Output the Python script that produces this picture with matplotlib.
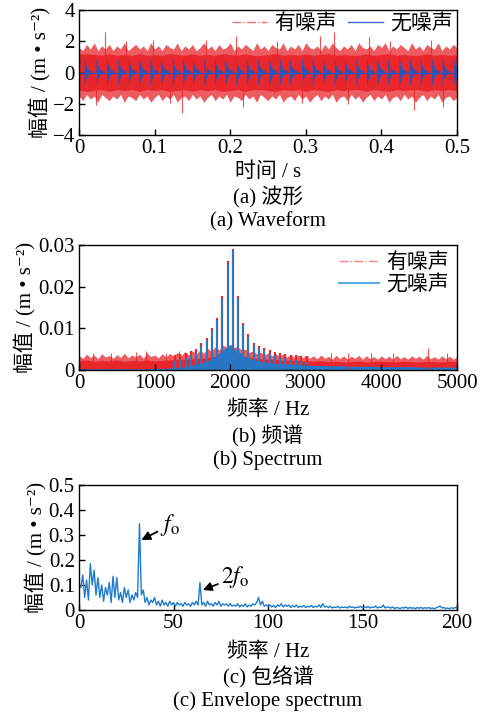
import numpy as np
import matplotlib
matplotlib.use('Agg')
import matplotlib.pyplot as plt

plt.rcParams['font.family'] = ['Liberation Serif', 'Noto Sans CJK SC', 'DejaVu Sans']
plt.rcParams['mathtext.fontset'] = 'stix'
plt.rcParams['axes.unicode_minus'] = True

RED = '#e8262b'
BLUE_A = '#2a55b8'
BLUE_B = '#1f7bcc'

# ---- (a) waveform ----
wave_t = np.linspace(0, 0.5, 51)
wave_t2 = np.linspace(0, 0.5, 101)
noisy_core = [1.15, 1.2, 1.15, 1.1, 1.2, 1.1, 1.15, 1.1, 1.2, 1.1, 1.15, 1.1, 1.2, 1.15, 1.1, 1.2, 1.1,
              1.15, 1.1, 1.2, 1.15, 1.1, 1.2, 1.1, 1.1, 1.15, 1.2, 1.1, 1.15, 1.1, 1.2, 1.1, 1.15, 1.2,
              1.1, 1.15, 1.1, 1.1, 1.2, 1.1, 1.15, 1.2, 1.1, 1.15, 1.1, 1.1, 1.2, 1.1, 1.15, 1.1, 1.15]
noisy_hi = [1.6, 1.4, 1.8, 1.5, 1.9, 1.4, 1.7, 1.5, 1.8, 1.4,
            1.7, 1.5, 1.9, 1.4, 1.6, 1.8, 1.5, 1.7, 1.4, 1.9,
            1.5, 1.7, 1.4, 1.8, 1.6, 1.5, 1.9, 1.4, 1.7, 1.5,
            1.8, 1.4, 1.6, 1.9, 1.5, 1.7, 1.4, 1.8, 1.5, 1.6,
            1.9, 1.4, 1.7, 1.5, 1.8, 1.6, 1.4, 1.9, 1.5, 1.7,
            1.4, 1.8, 1.6, 1.5, 1.9, 1.4, 1.7, 1.5, 1.8, 1.4,
            1.9, 1.6, 1.5, 1.7, 1.4, 1.8, 1.5, 1.9, 1.6, 1.4,
            1.7, 1.5, 1.8, 1.4, 1.9, 1.6, 1.5, 1.7, 1.4, 1.8,
            1.6, 1.9, 1.4, 1.7, 1.5, 1.8, 1.6, 1.4, 1.9, 1.5,
            1.7, 1.4, 1.8, 1.6, 1.5, 1.9, 1.4, 1.7, 1.5, 1.8, 1.6]
noisy_lo = [-1.5, -1.8, -1.4, -1.7, -1.5, -1.9, -1.4, -1.6, -1.8, -1.5,
            -1.7, -1.4, -1.9, -1.5, -1.6, -1.8, -1.4, -1.7, -1.5, -1.9,
            -1.6, -1.4, -1.8, -1.5, -1.7, -1.4, -1.9, -1.6, -1.5, -1.8,
            -1.4, -1.7, -1.5, -1.9, -1.6, -1.4, -1.8, -1.5, -1.7, -1.4,
            -1.9, -1.5, -1.6, -1.8, -1.4, -1.7, -1.5, -1.9, -1.4, -1.6,
            -1.8, -1.5, -1.7, -1.4, -1.9, -1.6, -1.5, -1.8, -1.4, -1.7,
            -1.5, -1.9, -1.6, -1.4, -1.8, -1.5, -1.7, -1.4, -1.9, -1.6,
            -1.5, -1.8, -1.4, -1.7, -1.5, -1.9, -1.6, -1.4, -1.8, -1.5,
            -1.7, -1.4, -1.9, -1.6, -1.5, -1.8, -1.4, -1.7, -1.5, -1.9,
            -1.6, -1.4, -1.8, -1.5, -1.7, -1.4, -1.9, -1.6, -1.5, -1.8, -1.6]
spike_t = [0.023, 0.035, 0.062, 0.098, 0.121, 0.136, 0.168, 0.208, 0.217, 0.262, 0.295, 0.319,
           0.337, 0.356, 0.383, 0.412, 0.443, 0.466, 0.482]
spike_v = [-2.05, 2.6, 2.0, 2.05, -1.95, -2.6, 2.1, 2.35, -2.2, 2.0, -1.95, 2.35,
           2.6, -2.0, 2.3, 2.0, -2.4, 2.05, -2.2]
impulse_t = [0.0075, 0.023, 0.037, 0.052, 0.066, 0.080, 0.0945, 0.109, 0.124, 0.138, 0.151, 0.166,
             0.180, 0.194, 0.208, 0.222, 0.237, 0.252, 0.266, 0.279, 0.295, 0.309, 0.323, 0.338,
             0.352, 0.367, 0.381, 0.395, 0.409, 0.424, 0.438, 0.452, 0.467, 0.481, 0.496]
impulse_amp = [0.95, 0.9, 0.95, 0.92, 0.9, 0.95, 0.93, 0.9, 0.95, 0.92, 0.9, 0.95, 0.93, 0.9, 0.95,
               0.92, 0.9, 0.95, 0.93, 0.9, 0.95, 0.92, 0.9, 0.95, 0.93, 0.9, 0.95, 0.92, 0.9, 0.95,
               0.93, 0.9, 0.95, 0.92, 0.9]

# ---- (b) spectrum ----
spec_f = np.linspace(0, 5000, 51)
spec_f2 = np.linspace(0, 5000, 101)
red_floor = [0.0022, 0.0024, 0.0021, 0.0023, 0.0022, 0.0024, 0.0021, 0.0023, 0.0022, 0.0024, 0.0022,
             0.0023, 0.0024, 0.0025, 0.0026, 0.0027, 0.0028, 0.0030, 0.0033, 0.0038, 0.0045, 0.0038,
             0.0032, 0.0029, 0.0027, 0.0026, 0.0025, 0.0024, 0.0024, 0.0023, 0.0022, 0.0021, 0.0022,
             0.0020, 0.0021, 0.0019, 0.0020, 0.0021, 0.0019, 0.0020, 0.0021, 0.0020, 0.0019, 0.0021,
             0.0020, 0.0019, 0.0021, 0.0020, 0.0019, 0.0021, 0.0020]
red_fuzz = [0.0034, 0.0028, 0.0038, 0.0030, 0.0036, 0.0027, 0.0039, 0.0031, 0.0035, 0.0028,
            0.0037, 0.0030, 0.0040, 0.0029, 0.0036, 0.0031, 0.0038, 0.0028, 0.0041, 0.0032,
            0.0036, 0.0029, 0.0039, 0.0031, 0.0040, 0.0033, 0.0042, 0.0034, 0.0044, 0.0036,
            0.0046, 0.0038, 0.0048, 0.0040, 0.0052, 0.0044, 0.0056, 0.0048, 0.0060, 0.0055,
            0.0062, 0.0054, 0.0056, 0.0048, 0.0050, 0.0042, 0.0046, 0.0039, 0.0043, 0.0036,
            0.0041, 0.0034, 0.0039, 0.0033, 0.0038, 0.0031, 0.0037, 0.0030, 0.0036, 0.0029,
            0.0035, 0.0028, 0.0034, 0.0027, 0.0036, 0.0028, 0.0033, 0.0026, 0.0035, 0.0027,
            0.0034, 0.0026, 0.0033, 0.0028, 0.0035, 0.0026, 0.0034, 0.0027, 0.0032, 0.0026,
            0.0034, 0.0027, 0.0033, 0.0026, 0.0035, 0.0027, 0.0032, 0.0026, 0.0034, 0.0028,
            0.0033, 0.0026, 0.0035, 0.0027, 0.0032, 0.0026, 0.0034, 0.0027, 0.0033, 0.0026, 0.0032]
red_spike_f = [180, 420, 760, 880, 1150, 1320, 3330, 3560, 3860, 4150, 4620, 4870]
red_spike_v = [0.0042, 0.0040, 0.0043, 0.0045, 0.0042, 0.0045, 0.0042, 0.0040, 0.0042, 0.0041, 0.0053, 0.0042]
blue_base = [0.0003, 0.0003, 0.0003, 0.0003, 0.0003, 0.0003, 0.0003, 0.0003, 0.0003, 0.0003, 0.0004,
             0.0004, 0.0005, 0.0006, 0.0008, 0.0012, 0.0016, 0.0022, 0.0032, 0.0048, 0.0060, 0.0045,
             0.0032, 0.0025, 0.0021, 0.0018, 0.0016, 0.0015, 0.0014, 0.0013, 0.0012, 0.0011, 0.0011,
             0.0010, 0.0010, 0.0010, 0.0009, 0.0009, 0.0009, 0.0009, 0.0008, 0.0008, 0.0008, 0.0008,
             0.0008, 0.0007, 0.0007, 0.0007, 0.0007, 0.0007, 0.0007]
comb_f = [1270, 1340, 1410, 1480, 1550, 1620, 1690, 1760, 1830, 1895, 1965, 2035, 2105, 2170,
          2240, 2310, 2380, 2450, 2520, 2590, 2660, 2730, 2800, 2870, 2940, 3010]
comb_a = [0.0022, 0.0026, 0.0030, 0.0035, 0.0042, 0.0058, 0.0072, 0.0095, 0.0120, 0.0172, 0.0255,
          0.0288, 0.0172, 0.0108, 0.0080, 0.0060, 0.0052, 0.0045, 0.0040, 0.0035, 0.0031, 0.0028,
          0.0025, 0.0023, 0.0021, 0.0019]
comb_red = [0.0035, 0.0038, 0.0040, 0.0045, 0.0050, 0.0064, 0.0078, 0.0100, 0.0126, 0.0178, 0.0262,
            0.0290, 0.0178, 0.0113, 0.0086, 0.0066, 0.0058, 0.0052, 0.0047, 0.0043, 0.0040, 0.0038,
            0.0036, 0.0035, 0.0034, 0.0033]

# ---- (c) envelope spectrum ----
env_f = np.arange(0, 201)
env_v = [0.10, 0.09, 0.14, 0.05, 0.12, 0.04, 0.185, 0.10, 0.16, 0.06,
         0.13, 0.05, 0.10, 0.035, 0.09, 0.06, 0.11, 0.03, 0.135, 0.05,
         0.13, 0.04, 0.07, 0.03, 0.09, 0.05, 0.08, 0.03, 0.06, 0.04,
         0.07, 0.05, 0.345, 0.06, 0.08, 0.03, 0.05, 0.02, 0.04, 0.03,
         0.05, 0.02, 0.035, 0.015, 0.04, 0.02, 0.03, 0.015, 0.035, 0.02,
         0.03, 0.015, 0.03, 0.02, 0.025, 0.015, 0.03, 0.02, 0.025, 0.015,
         0.03, 0.02, 0.035, 0.02, 0.11, 0.02, 0.03, 0.015, 0.035, 0.02,
         0.025, 0.015, 0.03, 0.02, 0.035, 0.015, 0.025, 0.02, 0.025, 0.015,
         0.025, 0.015, 0.02, 0.015, 0.025, 0.012, 0.02, 0.015, 0.025, 0.012,
         0.02, 0.015, 0.025, 0.02, 0.03, 0.05, 0.02, 0.035, 0.015, 0.02,
         0.015, 0.02, 0.012, 0.018, 0.01, 0.02, 0.015, 0.025, 0.012, 0.02,
         0.015, 0.02, 0.01, 0.018, 0.012, 0.02, 0.01, 0.015, 0.012, 0.018,
         0.01, 0.015, 0.012, 0.018, 0.01, 0.015, 0.012, 0.02, 0.01, 0.025,
         0.012, 0.015, 0.01, 0.015, 0.008, 0.012, 0.01, 0.015, 0.008, 0.012,
         0.01, 0.012, 0.008, 0.015, 0.01, 0.012, 0.008, 0.012, 0.01, 0.015,
         0.008, 0.012, 0.01, 0.014, 0.008, 0.012, 0.01, 0.016, 0.008, 0.012,
         0.01, 0.02, 0.008, 0.012, 0.01, 0.008, 0.012, 0.006, 0.01, 0.008,
         0.006, 0.01, 0.008, 0.012, 0.006, 0.01, 0.007, 0.009, 0.005, 0.01,
         0.007, 0.01, 0.006, 0.009, 0.007, 0.01, 0.006, 0.008, 0.005, 0.009,
         0.012, 0.016, 0.008, 0.01, 0.006, 0.008, 0.005, 0.009, 0.006, 0.01, 0.008]
fo_peak = (32, 0.345)
f2o_peak = (64, 0.11)

FS = 15
YLABEL = '幅值 / (m • s⁻²)'


def style_axes(ax):
    ax.tick_params(direction='in', length=4, width=1, labelsize=FS, top=False, right=False, pad=3)
    for s in ax.spines.values():
        s.set_linewidth(1.0)
    ax.set_ylabel(YLABEL, fontsize=FS, labelpad=1)


fig = plt.figure(figsize=(4.82, 7.16), dpi=100)
W = 378 / 482
H = 125 / 716
L = 79 / 482

# (a)
ax1 = fig.add_axes([L, 1 - 135 / 716, W, H])
ax1.fill_between(wave_t2, noisy_lo, noisy_hi, color=RED, alpha=0.75, lw=0)
ax1.fill_between(wave_t, [-v for v in noisy_core], noisy_core, color=RED, lw=0)
ax1.vlines(spike_t, 0, spike_v, color=RED, lw=0.8, alpha=0.8)
ax1.axhline(0, color=BLUE_A, lw=0.8)
for t, a in zip(impulse_t, impulse_amp):
    ax1.fill([t, t + 0.002, t + 0.005, t + 0.010, t + 0.010, t + 0.005, t + 0.002, t],
             [a, 0.5 * a, 0.2 * a, 0.05, -0.05, -0.2 * a, -0.5 * a, -a], color=BLUE_A, lw=0)
ax1.plot([], [], color='#f07070', ls='-.', lw=1, label='有噪声')
ax1.plot([], [], color='#4063c8', ls='-', lw=1, label='无噪声')
ax1.legend(loc='upper right', ncol=2, frameon=False, fontsize=FS, handlelength=1.7,
           columnspacing=0.5, handletextpad=0.35, borderaxespad=0.1, borderpad=0.1)
ax1.set_xlim(0, 0.5)
ax1.set_ylim(-4, 4)
ax1.set_xticks([0, 0.1, 0.2, 0.3, 0.4, 0.5])
ax1.set_xticklabels(['0', '0.1', '0.2', '0.3', '0.4', '0.5'])
ax1.set_yticks([-4, -2, 0, 2, 4])
style_axes(ax1)

# (b)
ax2 = fig.add_axes([L, 1 - 370 / 716, W, H])
ax2.fill_between(spec_f2, 0, red_fuzz, color=RED, alpha=0.75, lw=0)
ax2.fill_between(spec_f, 0, red_floor, color=RED, lw=0)
ax2.vlines(red_spike_f, 0, red_spike_v, color=RED, lw=0.8, alpha=0.8)
ax2.vlines(comb_f, 0, comb_red, color=RED, lw=1.6)
ax2.fill_between(spec_f, 0, blue_base, color=BLUE_B, lw=0)
ax2.vlines(comb_f, 0, comb_a, color=BLUE_B, lw=1.4)
ax2.plot([], [], color='#f08080', ls='-.', lw=1, label='有噪声')
ax2.plot([], [], color='#5aaae6', ls='-', lw=1.5, label='无噪声')
ax2.legend(loc='upper right', frameon=False, fontsize=FS, handlelength=1.9,
           handletextpad=0.35, borderaxespad=0.1, borderpad=0.3, labelspacing=0.1)
ax2.set_xlim(0, 5000)
ax2.set_ylim(0, 0.03)
ax2.set_xticks([0, 1000, 2000, 3000, 4000, 5000])
ax2.set_yticks([0, 0.01, 0.02, 0.03])
ax2.set_yticklabels(['0', '0.01', '0.02', '0.03'])
style_axes(ax2)

# (c)
ax3 = fig.add_axes([L, 1 - 610 / 716, W, H])
ax3.plot(env_f, env_v, color=BLUE_B, lw=1.0)
arrow = dict(arrowstyle='-|>', color='black', lw=1.3, mutation_scale=13, shrinkA=0, shrinkB=0)
ax3.annotate('$f_{\\mathrm{o}}$', xy=(fo_peak[0] + 1, fo_peak[1] - 0.065),
             xytext=(fo_peak[0] + 11, fo_peak[1] - 0.005),
             fontsize=FS + 2, va='center', ha='left', arrowprops=arrow)
ax3.annotate('$2f_{\\mathrm{o}}$', xy=(f2o_peak[0] + 1.5, f2o_peak[1] - 0.03),
             xytext=(f2o_peak[0] + 11, f2o_peak[1] + 0.02),
             fontsize=FS + 2, va='center', ha='left', arrowprops=arrow)
ax3.set_xlim(0, 200)
ax3.set_ylim(0, 0.5)
ax3.set_xticks([0, 50, 100, 150, 200])
ax3.set_yticks([0, 0.1, 0.2, 0.3, 0.4, 0.5])
ax3.set_yticklabels(['0', '0.1', '0.2', '0.3', '0.4', '0.5'])
style_axes(ax3)

cx = L + W / 2
captions = [
    (172, '时间 / s'), (197, '(a) 波形'), (222, '(a) Waveform'),
    (410, '频率 / Hz'), (436, '(b) 频谱'), (460, '(b) Spectrum'),
    (652, '频率 / Hz'), (677, '(c) 包络谱'), (701, '(c) Envelope spectrum'),
]
for y, s in captions:
    fig.text(cx, 1 - y / 716, s, ha='center', va='center', fontsize=FS)

fig.savefig('out.png', dpi=100)
